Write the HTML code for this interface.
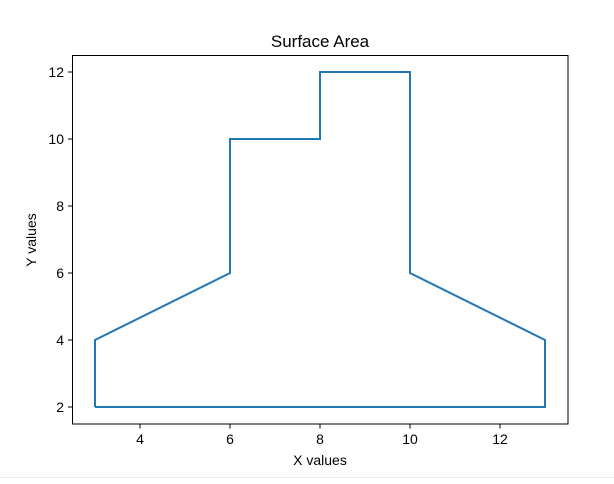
<!DOCTYPE html>
<html><head><meta charset="utf-8"><style>
body{margin:0;background:#fff;font-family:"Liberation Sans","DejaVu Sans",sans-serif}
</style></head><body>
<svg width="614" height="479" xmlns="http://www.w3.org/2000/svg">
<rect x="0" y="0" width="614" height="479" fill="#fff"/>
<line x1="0" y1="477.5" x2="614" y2="477.5" stroke="#eee"/>
<text x="320" y="47" text-anchor="middle" font-size="17">Surface Area</text>
<g id="xt"></g>
<g id="yt"></g>
<text x="320" y="465" text-anchor="middle" font-size="14">X values</text>
<text transform="translate(36,240) rotate(-90)" text-anchor="middle" font-size="14">Y values</text>
<path id="shape" fill="none" stroke="#1f77b4" stroke-width="2"/>
<rect x="72.5" y="55.5" width="495.5" height="368.5" fill="none" stroke="#000" stroke-width="1"/>
</svg>
<script>
const xs=[3,3,6,6,8,8,10,10,13,13,3];
const ys=[2,4,6,10,10,12,12,6,4,2,2];
const xTicks=[4,6,8,10,12];
const yTicks=[2,4,6,8,10,12];
function sx(v){return 95+(v-3)*45;}
function sy(v){return 407-(v-2)*33.5;}
const ns="http://www.w3.org/2000/svg";
let d="";
xs.forEach((x,i)=>{d+=(i?"L":"M")+sx(x)+" "+sy(ys[i]);});
document.getElementById('shape').setAttribute('d',d);
const xt=document.getElementById('xt'),yt=document.getElementById('yt');
xTicks.forEach(t=>{
 const l=document.createElementNS(ns,'line');
 l.setAttribute('x1',sx(t));l.setAttribute('x2',sx(t));l.setAttribute('y1',424);l.setAttribute('y2',428.5);l.setAttribute('stroke','#000');
 
 
 xt.appendChild(l);
 const s=document.createElementNS(ns,'text');
 s.setAttribute('x',sx(t));s.setAttribute('y',444);s.setAttribute('text-anchor','middle');s.setAttribute('font-size','14');s.textContent=t;
 
 
 xt.appendChild(s);
});
yTicks.forEach(t=>{
 const l=document.createElementNS(ns,'line');
 l.setAttribute('x1',68);l.setAttribute('x2',72.5);l.setAttribute('y1',sy(t));l.setAttribute('y2',sy(t));l.setAttribute('stroke','#000');
 
 
 yt.appendChild(l);
 const s=document.createElementNS(ns,'text');
 s.setAttribute('x',64);s.setAttribute('y',sy(t)+5);s.setAttribute('text-anchor','end');s.setAttribute('font-size','14');s.textContent=t;
 
 
 yt.appendChild(s);
});
</script>
</body></html>
